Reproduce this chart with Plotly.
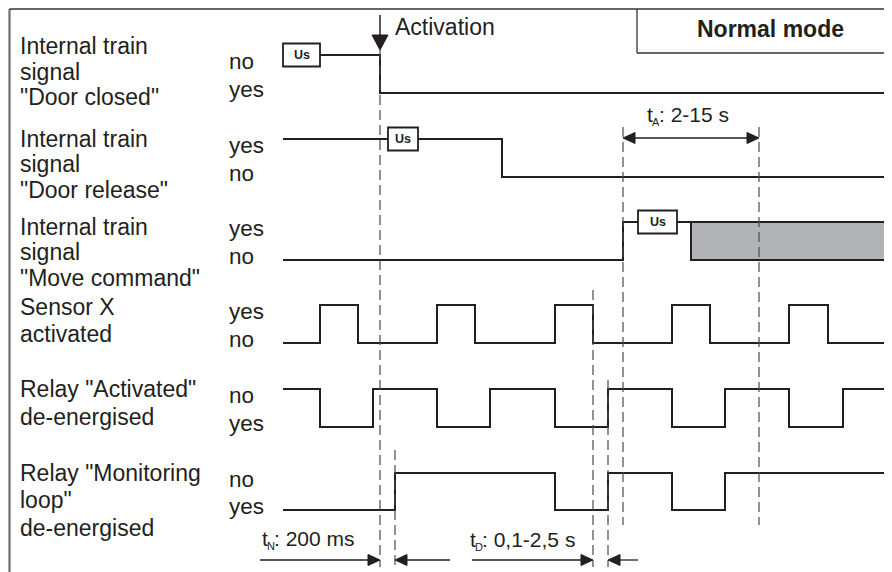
import plotly.graph_objects as go

# ---------------- data (time axis in drawing units) ----------------
t_start, t_end = 283, 888
signal_names = ["Door closed", "Door release", "Move command", "Sensor X", "Relay Activated", "Monitoring loop"]
# each signal: initial state (1 = upper level) and edge times
start_states = [1, 1, 0, 0, 1, 0]
edges = [
    [380],                                              # Door closed
    [502],                                              # Door release
    [623],                                              # Move command
    [320, 358, 437, 475, 555, 593, 672, 710, 789, 828], # Sensor X
    [320, 373, 437, 490, 555, 608, 672, 725, 789, 843], # Relay "Activated"
    [395, 555, 608, 672, 725],                          # Relay "Monitoring loop"
]
upper_labels = ["no", "yes", "yes", "yes", "no", "no"]
lower_labels = ["yes", "no", "no", "no", "yes", "yes"]
label_lines = [
    ["Internal train", "signal", "\"Door closed\""],
    ["Internal train", "signal", "\"Door release\""],
    ["Internal train", "signal", "\"Move command\""],
    ["Sensor X", "activated"],
    ["Relay \"Activated\"", "de-energised"],
    ["Relay \"Monitoring", "loop\"", "de-energised"],
]
us_boxes = [(0, 283, 320), (1, 388, 418), (2, 638, 677)]  # (row, t0, t1)
move_undefined_from = 691
activation_time = 380
tN = (380, 395)
tD = (593, 608)
tA = (623, 759)
tN_text = ("N", ": 200 ms")
tD_text = ("D", ": 0,1-2,5 s")
tA_text = ("A", ": 2-15 s")

# ---------------- layout (pixel positions) ----------------
W, H = 892, 572
OFF = 8  # page body margin compensation
row_upper = [55, 139, 222, 305, 389, 473]
row_lower = [93, 177, 260, 343, 427, 510]
label_y = [[46, 72, 97], [139, 164, 190], [227, 252, 278], [307, 334], [389, 417], [473, 500, 528]]
FONT = "Liberation Sans, Arial, Helvetica, sans-serif"
INK = "#231f20"
DASH_C = "#4a4a4a"

fig = go.Figure()
shapes = []
annotations = []


def text(x, y, s, size=23, anchor="left", bold=False):
    if bold:
        s = "<b>" + s + "</b>"
    annotations.append(dict(x=x, y=y, xref="x", yref="y", text=s, showarrow=False,
                            xanchor=anchor, yanchor="middle",
                            font=dict(family=FONT, size=size, color=INK)))


def sub_text(x, y, sub, rest, size=21):
    text(x, y, "t", size=size)
    text(x + 5, y + 8, sub, size=11)
    text(x + 12, y, rest, size=size)


def line(x0, y0, x1, y1, color=INK, width=1.5, dash="solid", layer="above"):
    shapes.append(dict(type="line", x0=x0, y0=y0, x1=x1, y1=y1, xref="x", yref="y",
                       line=dict(color=color, width=width, dash=dash), layer=layer))


def arrowhead(x, y, direction, length=12, half=5.5):
    if direction == "right":
        p = f"M{x},{y} L{x-length},{y-half} L{x-length},{y+half} Z"
    elif direction == "left":
        p = f"M{x},{y} L{x+length},{y-half} L{x+length},{y+half} Z"
    else:  # down
        p = f"M{x},{y} L{x-half},{y-length} L{x+half},{y-length} Z"
    shapes.append(dict(type="path", path=p, xref="x", yref="y",
                       fillcolor=INK, line=dict(color=INK, width=1)))


# frame
line(9.5, 9, 9.5, H + 10, color="#6d6d6d", width=2.2)
line(9.5, 9, W + 10, 9, color="#333333", width=1.5)
# Normal mode box
line(637, 9, 637, 53, color="#333333", width=1.3)
line(637, 53, W + 10, 53, color="#333333", width=1.3)
text(770, 29, "Normal mode", size=23, anchor="center", bold=True)

# undefined region of move command
shapes.append(dict(type="rect", x0=move_undefined_from, x1=t_end, y0=row_upper[2], y1=row_lower[2],
                   xref="x", yref="y", fillcolor="#b2b3b7", line=dict(width=0), layer="below"))
fig.add_trace(go.Scatter(x=[move_undefined_from, move_undefined_from, t_end],
                         y=[row_upper[2], row_lower[2], row_lower[2]],
                         mode="lines", line=dict(color=INK, width=2), hoverinfo="skip", showlegend=False))

# signals
for i in range(len(edges)):
    xs = [t_start] + edges[i] + [t_end]
    st = start_states[i]
    ys = []
    last = st
    for k in range(len(xs)):
        s = st if k % 2 == 0 else 1 - st
        if k == len(xs) - 1:
            s = last
        last = s
        ys.append(row_upper[i] if s == 1 else row_lower[i])
    fig.add_trace(go.Scatter(x=xs, y=ys, mode="lines", line=dict(color=INK, width=2, shape="hv"),
                             hoverinfo="skip", showlegend=False, name=signal_names[i]))
    for ln, yy in zip(label_lines[i], label_y[i]):
        text(18, yy, ln)
    text(227, row_upper[i] + 6, upper_labels[i], size=22.5)
    text(227, row_lower[i] - 4, lower_labels[i], size=22.5)

# Us boxes
for r, a, b in us_boxes:
    yc = row_upper[r]
    shapes.append(dict(type="rect", x0=a, x1=b, y0=yc - 11.5, y1=yc + 11.5, xref="x", yref="y",
                       fillcolor="white", line=dict(color=INK, width=1.8), layer="above"))
    text((a + b) / 2, yc, "Us", size=12.5, anchor="center", bold=True)

# dashed reference lines
DASH = "10px,5px"
line(activation_time, 50, activation_time, 567, color=DASH_C, width=1.2, dash=DASH)
line(tN[1], 450, tN[1], 567, color=DASH_C, width=1.2, dash=DASH)
line(tD[0], 290, tD[0], 567, color=DASH_C, width=1.2, dash=DASH)
line(tD[1], 380, tD[1], 567, color=DASH_C, width=1.2, dash=DASH)
line(tA[0], 127, tA[0], 525, color=DASH_C, width=1.2, dash=DASH)
line(tA[1], 127, tA[1], 525, color=DASH_C, width=1.2, dash=DASH)

# activation arrow
line(activation_time, 15, activation_time, 38, width=1.5)
arrowhead(activation_time, 50, "down", length=15, half=8)
text(393, 27, "Activation", size=23)

# tA
yA = 138
line(tA[0] + 6, yA, tA[1] - 6, yA, width=1.5)
arrowhead(tA[0], yA, "left")
arrowhead(tA[1], yA, "right")
sub_text(645, 114, *tA_text)

# tN / tD
yN = 560
line(260, yN, tN[0] - 6, yN, width=1.3)
arrowhead(tN[0], yN, "right")
line(tN[1] + 6, yN, 450, yN, width=1.3)
arrowhead(tN[1], yN, "left")
sub_text(260, 538, *tN_text)

line(472, yN, tD[0] - 6, yN, width=1.3)
arrowhead(tD[0], yN, "right")
line(tD[1] + 6, yN, 638, yN, width=1.3)
arrowhead(tD[1], yN, "left")
sub_text(468, 539, *tD_text)

fig.update_layout(
    width=W, height=H, margin=dict(l=0, r=0, t=0, b=0),
    paper_bgcolor="white", plot_bgcolor="white",
    xaxis=dict(range=[OFF, W + OFF], visible=False, fixedrange=True),
    yaxis=dict(range=[H + OFF, OFF], visible=False, fixedrange=True),
    shapes=shapes, annotations=annotations, showlegend=False,
)
fig.write_html("out.html")
